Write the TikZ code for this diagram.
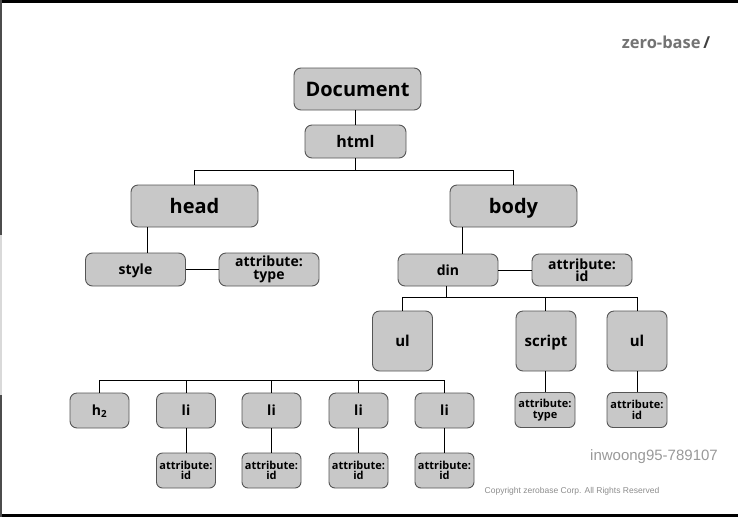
\documentclass[tikz,border=0pt]{standalone}
\usepackage{fontspec}
\setmainfont{Open Sans}
\newfontfamily\markfont{Liberation Sans}
\usepackage{tikz}
\usetikzlibrary{positioning,calc}
\definecolor{boxfill}{RGB}{200,200,200}
\definecolor{boxline}{RGB}{85,85,85}

\begin{document}
\begin{tikzpicture}[
    x=1pt, y=-1pt,
    tag/.style={
        draw=boxline,
        line width=0.9pt,
        rounded corners=7pt,
        fill=boxfill,
        inner sep=0pt,
        align=center,
        font=\bfseries
    },
    one/.style={text height=#1, text depth=0pt},
    big/.style={tag, one=14.4pt, minimum width=127pt, minimum height=42pt,
        font=\bfseries\fontsize{20}{22}\selectfont},
    mid/.style={tag, minimum width=100pt, minimum height=33pt,
        font=\bfseries\fontsize{14}{12.5}\selectfont},
    sq/.style={tag, one=10.8pt, minimum width=60pt, minimum height=60pt,
        font=\bfseries\fontsize{15}{16}\selectfont},
    leaf/.style={tag, one=10pt, minimum width=59pt, minimum height=35pt,
        font=\bfseries\fontsize{14}{15}\selectfont},
    small/.style={tag, minimum width=59pt, minimum height=35pt,
        rounded corners=6pt,
        font=\bfseries\fontsize{11}{10.5}\selectfont},
    link/.style={line width=1pt, black}
]
\useasboundingbox (0,0) rectangle (738,517);

% frame
\fill[black] (0,0) rectangle (738,2.5);
\fill[black] (0,514) rectangle (738,517);
\draw[black!70, line width=1.5pt] (0.75,0) -- (0.75,235);
\draw[black!15, line width=1.5pt] (0.75,235) -- (0.75,395);
\draw[black!70, line width=1.5pt] (0.75,395) -- (0.75,517);

% top
\node[big] (doc) at (357.5,89) {Document};
\node[tag, one=11.5pt, minimum width=101pt, minimum height=33pt,
      font=\bfseries\fontsize{16}{18}\selectfont] (html) at (355.5,141.5) {html};

% second row
\node[big] (head) at (194.5,206) {head};
\node[big] (body) at (513.5,206) {body};

% third row
\node[mid, one=10pt] (style) at (135.5,269.5) {style};
\node[mid] (headattr) at (269,269.5) {attribute:\\type};
\node[mid, one=10pt, minimum height=32pt] (din) at (448,270) {din};
\node[mid, minimum height=32pt] (dinattr) at (582,270) {attribute:\\id};

% children of din
\node[sq] (ulA) at (402.5,341) {ul};
\node[sq] (script) at (546,341) {script};
\node[sq] (ulB) at (637,341) {ul};
\node[small, minimum width=60pt] (scriptattr) at (545,410) {attribute:\\type};
\node[small, minimum width=60pt] (ulattr) at (637,410) {attribute:\\id};

% list row
\node[leaf] (h2) at (99.5,410.5) {h\textsubscript{2}};
\node[leaf] (li1) at (186,410.5) {li};
\node[leaf] (li2) at (271.5,410.5) {li};
\node[leaf] (li3) at (358.5,410.5) {li};
\node[leaf] (li4) at (444.5,410.5) {li};
\foreach \n in {1,2,3,4}{
    \node[small] (liattr\n) at ($(li\n)+(0,60)$) {attribute:\\id};
}

% connectors
\draw[link] (html.north |- doc.south) -- (html.north);
\draw[link] (html.south) -- ++(0,12) coordinate (hbus);
\draw[link] (head.north) |- (hbus) -| (body.north);
\draw[link] ([xshift=11.5pt]style.north) -- ([xshift=11.5pt]style.north |- head.south);
\draw[link] (style.east) -- (headattr.west);
\draw[link] ([xshift=14pt]din.north) -- ([xshift=14pt]din.north |- body.south);
\draw[link] (din.east) -- (dinattr.west);
\draw[link] ([xshift=-2pt]din.south) -- ++(0,11) coordinate (dbus);
\draw[link] (ulA.north) |- (dbus) -| (ulB.north);
\draw[link] ([xshift=-1pt]script.north) -- ([xshift=-1pt]script.north |- dbus);
\draw[link] (scriptattr.north) -- (scriptattr.north |- script.south);
\draw[link] (ulB.south) -- (ulattr.north);
\coordinate (libus) at ($(h2.north)+(0,-12)$);
\draw[link] (h2.north) -- (libus) -| (li4.north);
\foreach \n in {1,2,3}{
    \draw[link] (li\n.north) -- (li\n.north |- libus);
}
\foreach \n in {1,2,3,4}{
    \draw[link] (li\n.south) -- (liattr\n.north);
}

% marks
\node[font=\bfseries\fontsize{16.5}{17}\selectfont, text=black!55, inner sep=0pt]
    (brand) at (666,42) {zero-base\,\textcolor{black!75}{/}};
\node[font=\markfont\fontsize{15}{16}\selectfont, text=black!40, inner sep=0pt]
    (user) at (654,457) {inwoong95-789107};
\node[font=\markfont\fontsize{8.5}{9}\selectfont, text=black!45, inner sep=0pt]
    (copy) at (572,491) {Copyright zerobase Corp. All Rights Reserved};
\end{tikzpicture}
\end{document}
